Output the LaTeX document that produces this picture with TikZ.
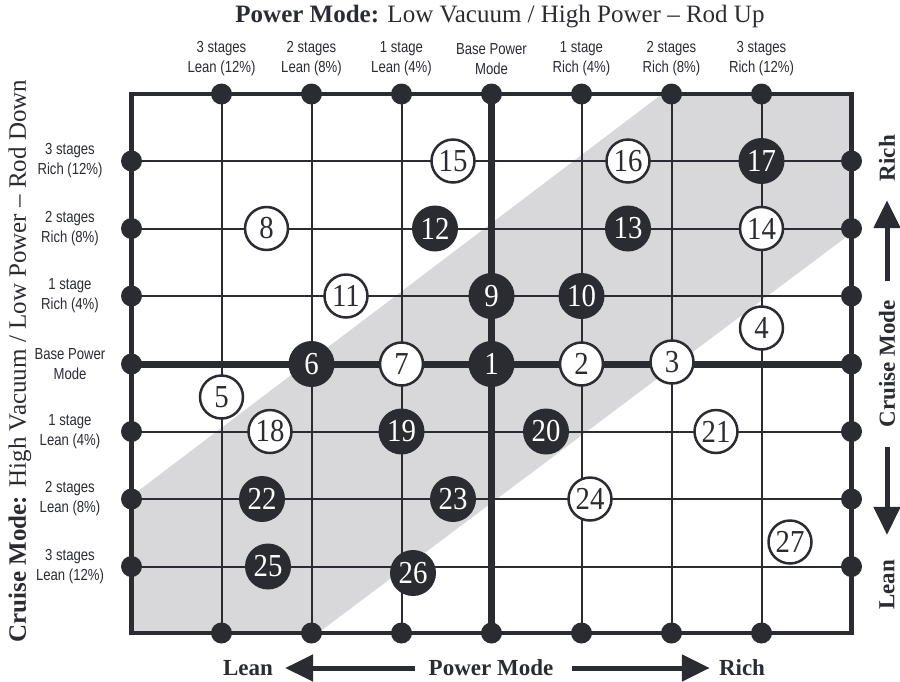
\documentclass[tikz,border=0pt]{standalone}
\usepackage{fontspec}
\setmainfont{Liberation Serif}
\setsansfont{Liberation Sans}
\usetikzlibrary{arrows.meta,positioning}
\definecolor{ink}{RGB}{42,44,50}
\definecolor{bandgray}{RGB}{216,216,218}
\newcommand\narrow[1]{\scalebox{0.82}[1]{#1}}
\newcommand\numfont{\fontsize{32}{32}\selectfont}
\newcommand\num[1]{\scalebox{0.9}[1]{#1}}
\tikzset{
  frame/.style={line width=4.5pt,ink},
  gridline/.style={line width=2pt,ink},
  axisline/.style={line width=7pt,ink},
  band/.style={fill=bandgray},
  stud/.style={circle,fill=ink,inner sep=0pt,minimum size=21pt},
  ring/.style={circle,draw=ink,line width=2.5pt,fill=white,text=ink,inner sep=0pt,minimum size=43pt,font=\numfont},
  disk/.style={circle,fill=ink,text=white,inner sep=0pt,minimum size=46pt,font=\numfont},
  stage/.style={font=\sffamily\fontsize{16}{20}\selectfont,align=center,text=ink},
  heading/.style={font=\fontsize{25}{25}\selectfont,text=ink},
  dir/.style={font=\bfseries\fontsize{23}{23}\selectfont,text=ink,inner sep=0pt},
  way/.style={line width=5pt,ink,-{Triangle[length=28pt,width=26pt]}},
}

\begin{document}
\begin{tikzpicture}[x=1pt,y=-1pt,>=Stealth]
    \useasboundingbox (0,0) rectangle (900,681);
    % diagonal band
    \fill[band] (131.5,496) -- (662,94) -- (851.5,94) -- (851.5,233)
      -- (318,633) -- (131.5,633) -- cycle;
    % studs on the frame
    \foreach \x [count=\i] in {221.5,311.5,401.5,491.5,581.5,671.5,761.5} {
      \node[stud] (T\i) at (\x,94) {};
      \node[stud] (B\i) at (\x,633) {};
    }
    \foreach \y [count=\i] in {161,228.5,296,364,431.5,499,566.5} {
      \node[stud] (L\i) at (131.5,\y) {};
      \node[stud] (R\i) at (851.5,\y) {};
    }
    % grid
    \foreach \i in {1,2,3,5,6,7} {
      \draw[gridline] (T\i.center) -- (B\i.center);
      \draw[gridline] (L\i.center) -- (R\i.center);
    }
    \draw[axisline] (T4.center) -- (B4.center);
    \draw[axisline] (L4.center) -- (R4.center);
    \draw[frame] (131.5,94) rectangle (851.5,633);
    % power mode stages
    \node[stage] (p1) at (221.5,59) {\narrow{3 stages}\\\narrow{Lean (12\%)}};
    \node[stage] (p2) at (311.5,59) {\narrow{2 stages}\\\narrow{Lean (8\%)}};
    \node[stage] (p3) at (401.5,59) {\narrow{1 stage}\\\narrow{Lean (4\%)}};
    \node[stage] (p4) at (491.5,59) {\narrow{Base Power}\\\narrow{Mode}};
    \node[stage] (p5) at (581.5,59) {\narrow{1 stage}\\\narrow{Rich (4\%)}};
    \node[stage] (p6) at (671.5,59) {\narrow{2 stages}\\\narrow{Rich (8\%)}};
    \node[stage] (p7) at (761.5,59) {\narrow{3 stages}\\\narrow{Rich (12\%)}};
    % cruise mode stages
    \node[stage] (q1) at (70,161) {\narrow{3 stages}\\\narrow{Rich (12\%)}};
    \node[stage] (q2) at (70,228.5) {\narrow{2 stages}\\\narrow{Rich (8\%)}};
    \node[stage] (q3) at (70,296) {\narrow{1 stage}\\\narrow{Rich (4\%)}};
    \node[stage] (q4) at (70,364) {\narrow{Base Power}\\\narrow{Mode}};
    \node[stage] (q5) at (70,431.5) {\narrow{1 stage}\\\narrow{Lean (4\%)}};
    \node[stage] (q6) at (70,499) {\narrow{2 stages}\\\narrow{Lean (8\%)}};
    \node[stage] (q7) at (70,566.5) {\narrow{3 stages}\\\narrow{Lean (12\%)}};
    % titles
    \node[heading] (ptitle) at (500,17) {\textbf{Power Mode:} Low Vacuum / High Power -- Rod Up};
    \node[heading,rotate=90] (ctitle) at (20,361) {\textbf{Cruise Mode:} High Vacuum / Low Power -- Rod Down};
    % numbered settings
    \node[disk] (n1) at (491.5,364) {\num{1}};
    \node[ring] (n2) at (581.5,364) {\num{2}};
    \node[ring] (n3) at (672,362) {\num{3}};
    \node[ring] (n4) at (761.5,328) {\num{4}};
    \node[ring] (n5) at (221.5,397) {\num{5}};
    \node[disk] (n6) at (311.5,364) {\num{6}};
    \node[ring] (n7) at (401.5,364) {\num{7}};
    \node[ring] (n8) at (266.5,228.5) {\num{8}};
    \node[disk] (n9) at (491.5,296) {\num{9}};
    \node[disk] (n10) at (581.5,296) {\num{10}};
    \node[ring] (n11) at (346,296) {\num{11}};
    \node[disk] (n12) at (435,228.5) {\num{12}};
    \node[disk] (n13) at (628,228.5) {\num{13}};
    \node[ring] (n14) at (761.5,228.5) {\num{14}};
    \node[ring] (n15) at (453,161) {\num{15}};
    \node[ring] (n16) at (628,161) {\num{16}};
    \node[disk] (n17) at (761.5,161) {\num{17}};
    \node[ring] (n18) at (270,431.5) {\num{18}};
    \node[disk] (n19) at (401.5,431.5) {\num{19}};
    \node[disk] (n20) at (546,431.5) {\num{20}};
    \node[ring] (n21) at (716,431.5) {\num{21}};
    \node[disk] (n22) at (262,499) {\num{22}};
    \node[disk] (n23) at (453,499) {\num{23}};
    \node[ring] (n24) at (590,499) {\num{24}};
    \node[disk] (n25) at (268,566.5) {\num{25}};
    \node[disk] (n26) at (413,573) {\num{26}};
    \node[ring] (n27) at (790,542) {\num{27}};
    % cruise mode direction
    \node[dir,rotate=90] (crich) at (887,158) {Rich};
    \node[dir,rotate=90] (cmode) at (887,364) {Cruise Mode};
    \node[dir,rotate=90] (clean) at (887,585) {Lean};
    \draw[way,shorten <=19pt,shorten >=19pt] (cmode) -- (crich);
    \draw[way,shorten <=19pt,shorten >=25pt] (cmode) -- (clean);
    % power mode direction
    \node[dir] (plean) at (248,668) {Lean};
    \node[dir] (pmode) at (491,668) {Power Mode};
    \node[dir] (prich) at (742,668) {Rich};
    \draw[way,shorten <=14pt,shorten >=12pt] (pmode) -- (plean);
    \draw[way,shorten <=19pt,shorten >=9pt] (pmode) -- (prich);
  \end{tikzpicture}
\end{document}
